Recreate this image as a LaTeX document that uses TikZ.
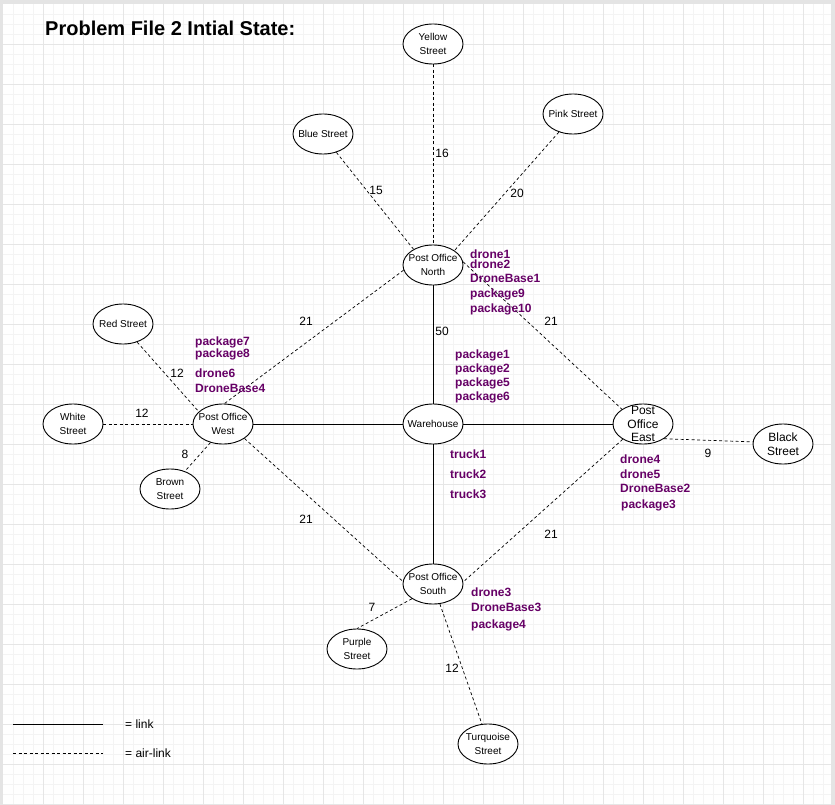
\documentclass[tikz,border=0pt]{standalone}
\usepackage{fontspec}
\setmainfont{Liberation Sans}
\usetikzlibrary{shapes.geometric}
\definecolor{pkg}{HTML}{660066}
\definecolor{gridmaj}{HTML}{E6E6E6}
\definecolor{gridmin}{HTML}{F4F4F4}
\definecolor{framegray}{HTML}{E4E4E4}
\tikzset{
  place/.style={ellipse, draw, line width=0.9pt, fill=white, minimum width=60pt, minimum height=40pt, inner sep=0pt},
  ptext/.style={font=\fontsize{10}{13.5}\selectfont, align=center, inner sep=0pt},
  pbig/.style={font=\fontsize{12}{13.5}\selectfont, align=center, inner sep=0pt},
  link/.style={draw, line width=0.9pt},
  air/.style={draw, line width=0.7pt, dash pattern=on 3pt off 2.5pt},
  elab/.style={font=\fontsize{12}{14}\selectfont, inner sep=0pt},
  item/.style={font=\bfseries\fontsize{12}{14}\selectfont, text=pkg, anchor=base west, inner sep=0pt},
  legtext/.style={font=\fontsize{12}{14}\selectfont, anchor=west, inner sep=0pt}
}
\begin{document}
\begin{tikzpicture}[x=1pt, y=-1pt]
\useasboundingbox (0,0) rectangle (835,805);
% background and grid
\fill[framegray] (0,0) rectangle (835,805);
\fill[white] (3,4) rectangle (831,805);
\foreach \x in {13,23,...,823} \draw[gridmin, line width=0.8pt] (\x,4) -- (\x,805);
\foreach \y in {14,24,...,804} \draw[gridmin, line width=0.8pt] (3,\y) -- (831,\y);
\foreach \x in {43,83,...,803} \draw[gridmaj, line width=0.8pt] (\x,4) -- (\x,805);
\foreach \y in {44,84,...,804} \draw[gridmaj, line width=0.8pt] (3,\y) -- (831,\y);

% title
\node[font=\bfseries\fontsize{20}{24}\selectfont, anchor=base west, inner sep=0pt] (title) at (45,36) {Problem File 2 Intial State:};

% places
\node[place, label={[ptext]center:Yellow\\Street}] (yellow) at (433,44) {};
\node[place, label={[ptext]center:Pink Street}] (pink) at (573,114) {};
\node[place, label={[ptext]center:Blue Street}] (blue) at (323,134) {};
\node[place, label={[ptext]center:Post Office\\North}] (pon) at (433,265) {};
\node[place, label={[ptext]center:Warehouse}] (wh) at (433,424) {};
\node[place, label={[pbig]center:Post\\Office\\East}] (poe) at (643,424) {};
\node[place, label={[pbig]center:Black\\Street}] (black) at (783,444) {};
\node[place, label={[ptext]center:Post Office\\West}] (pow) at (223,424) {};
\node[place, label={[ptext]center:White\\Street}] (white) at (73,424) {};
\node[place, label={[ptext]center:Red Street}] (red) at (123,324) {};
\node[place, label={[ptext]center:Brown\\Street}] (brown) at (170,489) {};
\node[place, label={[ptext]center:Post Office\\South}] (pos) at (433,584) {};
\node[place, label={[ptext]center:Purple\\Street}] (purple) at (357,649) {};
\node[place, label={[ptext]center:Turquoise\\Street}] (turq) at (488,744) {};

% links
\draw[link] (pon) -- (wh);
\draw[link] (wh) -- (pos);
\draw[link] (pow) -- (wh);
\draw[link] (wh) -- (poe);

% air links
\draw[air] (yellow) -- (pon);
\draw[air] (pink.232) -- (pon.34);
\draw[air] (blue.-54) -- (pon.141);
\draw[air] (pon.190) -- (pow.86);
\draw[air] (pon.6) -- (poe.145);
\draw[air] (red.-52) -- (pow.153);
\draw[air] (white) -- (pow);
\draw[air] (pow.236) -- (brown.50);
\draw[air] (pow.-34) -- (pos.175);
\draw[air] (poe.217) -- (pos.4);
\draw[air] (poe.-35) -- (black.176);
\draw[air] (pos.215) -- (purple.90);
\draw[air] (pos.-71) -- (turq.107);

% edge labels
\node[elab] (e16) at (442,153) {16};
\node[elab] (e20) at (517,193) {20};
\node[elab] (e15) at (376,190) {15};
\node[elab] (e21a) at (306,321) {21};
\node[elab] (e21b) at (551,321) {21};
\node[elab] (e50) at (442,331) {50};
\node[elab] (e12a) at (177,373) {12};
\node[elab] (e12b) at (142,413) {12};
\node[elab] (e8) at (185,454) {8};
\node[elab] (e21c) at (306,519) {21};
\node[elab] (e21d) at (551,534) {21};
\node[elab] (e9) at (708,453) {9};
\node[elab] (e7) at (372,607) {7};
\node[elab] (e12c) at (452,668) {12};

% items at Post Office North
\node[item] (d1) at (470,258) {drone1};
\node[item] (d2) at (470,268) {drone2};
\node[item] (db1) at (470,282.5) {DroneBase1};
\node[item] (p9) at (470,297.5) {package9};
\node[item] (p10) at (470,312.5) {package10};
% items at Warehouse
\node[item] (p1) at (455,358.5) {package1};
\node[item] (p2) at (455,372.5) {package2};
\node[item] (p5) at (455,386.5) {package5};
\node[item] (p6) at (455,400.5) {package6};
\node[item] (t1) at (450,458.5) {truck1};
\node[item] (t2) at (450,478.5) {truck2};
\node[item] (t3) at (450,498.5) {truck3};
% items at Post Office East
\node[item] (d4) at (620,463.5) {drone4};
\node[item] (d5) at (620,478.5) {drone5};
\node[item] (db2) at (620,492.5) {DroneBase2};
\node[item] (p3) at (621,508.5) {package3};
% items at Post Office West
\node[item] (p7) at (195,345.5) {package7};
\node[item] (p8) at (195,357.5) {package8};
\node[item] (d6) at (195,377.5) {drone6};
\node[item] (db4) at (195,392.5) {DroneBase4};
% items at Post Office South
\node[item] (d3) at (471,596.5) {drone3};
\node[item] (db3) at (471,611.5) {DroneBase3};
\node[item] (p4) at (471,628.5) {package4};

% legend
\coordinate (la1) at (13,724);
\coordinate (lb1) at (103,724);
\coordinate (la2) at (13,753);
\coordinate (lb2) at (103,753);
\draw[link] (la1) -- (lb1);
\draw[air, line width=0.8pt] (la2) -- (lb2);
\node[legtext] (lt1) at (125,724) {= link};
\node[legtext] (lt2) at (125,753) {= air-link};
\end{tikzpicture}
\end{document}
